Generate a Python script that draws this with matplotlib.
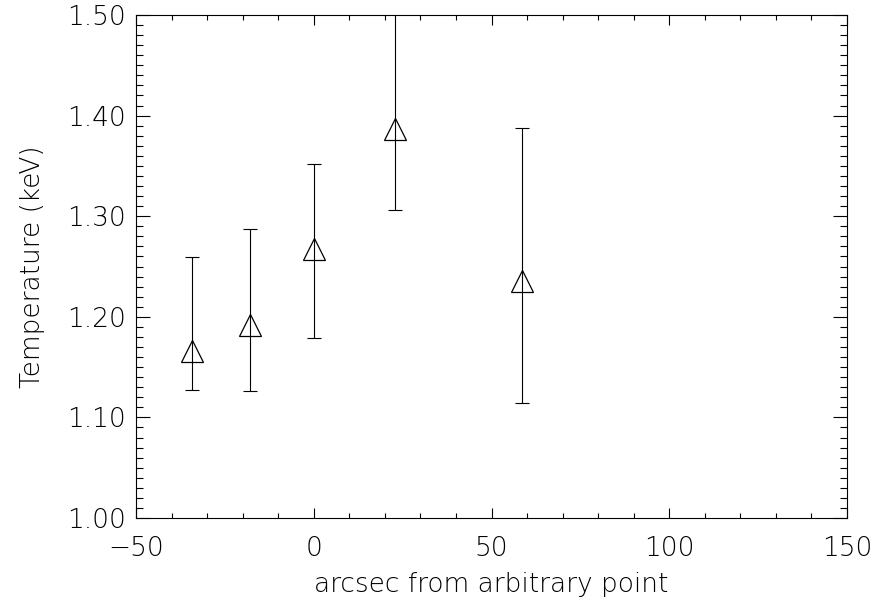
import matplotlib
matplotlib.use("Agg")
import matplotlib.pyplot as plt
from matplotlib.ticker import MultipleLocator, FormatStrFormatter
import numpy as np

# offsets along the slit (arcsec) and fitted temperatures (keV)
offset = [-34.3, -17.9, 0.0, 22.9, 58.5]
temp = [1.166, 1.192, 1.267, 1.387, 1.236]
temp_lo = [1.127, 1.126, 1.179, 1.306, 1.114]
temp_hi = [1.259, 1.287, 1.352, 1.53, 1.388]

plt.rcParams["font.family"] = ["DejaVu Sans"]
FS = 19


def main() -> None:
    t = np.array(temp)
    yerr = [t - np.array(temp_lo), np.array(temp_hi) - t]

    fig = plt.figure(figsize=(8.76, 6.02), dpi=100)
    ax = fig.add_axes([0.1553, 0.1395, 0.9669 - 0.1553, 0.9751 - 0.1395])

    ax.errorbar(offset, temp, yerr=yerr, fmt="none", ecolor="black",
                elinewidth=0.8, capsize=5, capthick=0.8)
    ax.plot(offset, temp, linestyle="none", marker="^", markersize=16.5,
            markerfacecolor="none", markeredgecolor="black", markeredgewidth=0.9)

    ax.set_xlim(-50, 150)
    ax.set_ylim(1.0, 1.5)
    ax.xaxis.set_major_locator(MultipleLocator(50))
    ax.xaxis.set_minor_locator(MultipleLocator(10))
    ax.yaxis.set_major_locator(MultipleLocator(0.1))
    ax.yaxis.set_minor_locator(MultipleLocator(0.01))
    ax.yaxis.set_major_formatter(FormatStrFormatter("%.2f"))

    ax.tick_params(which="both", direction="in", top=True, right=True,
                   width=0.8, labelsize=FS, colors="black")
    ax.tick_params(axis="x", which="major", length=7.2, pad=13)
    ax.tick_params(axis="x", which="minor", length=3.6)
    ax.tick_params(axis="y", which="major", length=10, pad=7)
    ax.tick_params(axis="y", which="minor", length=5)
    for lab in ax.get_xticklabels() + ax.get_yticklabels():
        lab.set_fontweight("light")
    for s in ax.spines.values():
        s.set_linewidth(0.8)

    ax.set_xlabel("arcsec from arbitrary point", fontsize=FS, fontweight="light")
    ax.set_ylabel("Temperature (keV)", fontsize=FS, fontweight="light")
    ax.xaxis.set_label_coords(0.5, -0.108)
    ax.yaxis.set_label_coords(-0.128, 0.5)

    fig.savefig("out.png", dpi=100)
    plt.close(fig)


if __name__ == "__main__":
    main()
